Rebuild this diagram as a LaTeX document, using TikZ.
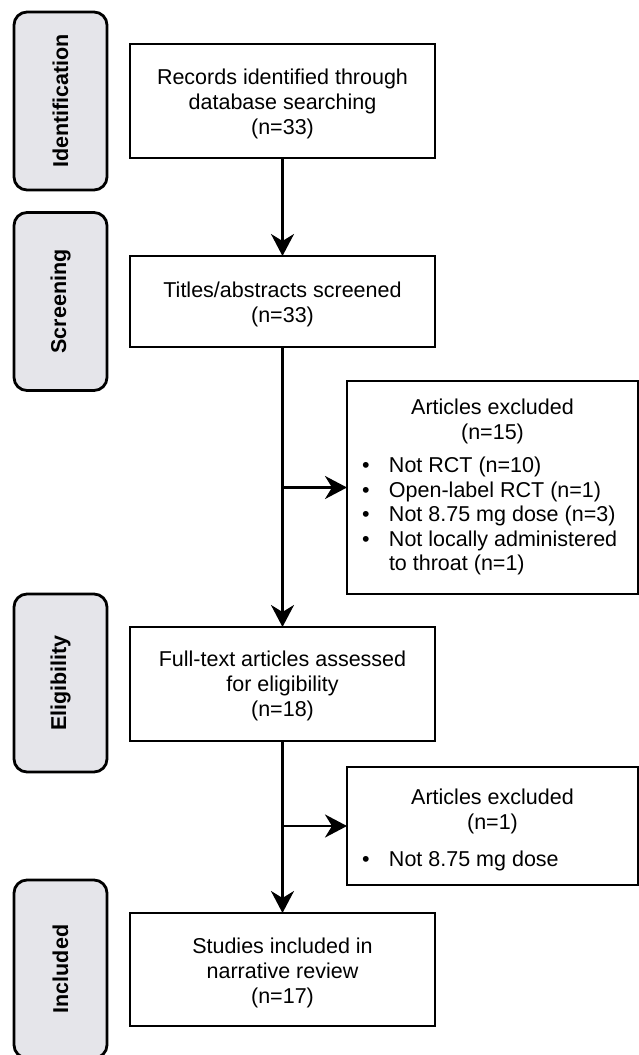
\documentclass[tikz,border=0pt]{standalone}
\usepackage{fontspec}
\setmainfont{Liberation Sans}
\usetikzlibrary{arrows.meta}
\definecolor{tabgray}{RGB}{229,229,234}
\begin{document}
\begin{tikzpicture}[x=1pt,y=-1pt,
  every node/.style={inner sep=0pt, outer sep=0pt},
  txt/.style={font=\fontsize{21.5}{25}\selectfont},
  mainbox/.style={draw=black, line width=2.5pt, fill=white, minimum width=305pt},
  maintext/.style={align=center, txt, yshift=-3pt},
  exbox/.style={draw=black, line width=2.5pt, fill=white, minimum width=291pt},
  tabbox/.style={draw=black, line width=2.8pt, fill=tabgray, rounded corners=13pt, minimum width=93pt, minimum height=178pt},
  tablabel/.style={rotate=90, font=\fontsize{21.5}{25}\selectfont\bfseries},
  arr/.style={line width=2.5pt, -{Stealth[length=22pt,width=23pt,inset=7pt]}},
  bl/.style={txt, anchor=north west}
]
\useasboundingbox (0,0) rectangle (639,1055);
\begin{scope}
\clip (0,0) rectangle (639,1055);
% stage tabs
\node[tabbox] (t1) at (60.5,101) {};
\node[tablabel] (t1l) at (t1.center) {Identification};
\node[tabbox] (t2) at (60.5,301.5) {};
\node[tablabel] (t2l) at (t2.center) {Screening};
\node[tabbox] (t3) at (60.5,683) {};
\node[tablabel] (t3l) at (t3.center) {Eligibility};
\node[tabbox] (t4) at (60.5,969) {};
\node[tablabel] (t4l) at (t4.center) {Included};

% main boxes
\node[mainbox, minimum height=114pt] (b1) at (282.5,101) {};
\node[maintext] (b1t) at (b1.center) {Records identified through\\database searching\\(n=33)};
\node[mainbox, minimum height=91pt] (b2) at (282.5,301.5) {};
\node[maintext] (b2t) at (b2.center) {Titles/abstracts screened\\(n=33)};
\node[mainbox, minimum height=114pt] (b3) at (282.5,684) {};
\node[maintext, yshift=1pt] (b3t) at (b3.center) {Full-text articles assessed\\for eligibility\\(n=18)};
\node[mainbox, minimum height=113pt] (b4) at (282.5,969.5) {};
\node[maintext] (b4t) at (b4.center) {Studies included in\\narrative review\\(n=17)};

% exclusion boxes
\node[exbox, minimum height=213pt] (e1) at (492.5,487.5) {};
\node[txt, align=center, anchor=north] (e1t) at (492.5,399) {Articles excluded\\(n=15)};
\node[bl] (e1l) at (359,455) {%
  \begin{tabular}{@{}p{30pt}@{}l@{}}
  \hspace{3pt}\textbullet & Not RCT (n=10)\\[-0.5pt]
  \hspace{3pt}\textbullet & Open-label RCT (n=1)\\[-0.5pt]
  \hspace{3pt}\textbullet & Not 8.75 mg dose (n=3)\\[-0.5pt]
  \hspace{3pt}\textbullet & Not locally administered\\[-0.5pt]
   & to throat (n=1)
  \end{tabular}};

\node[exbox, minimum height=118pt] (e2) at (492.5,826) {};
\node[txt, align=center, anchor=north] (e2t) at (492.5,789) {Articles excluded\\(n=1)};
\node[bl] (e2l) at (359,849) {%
  \begin{tabular}{@{}p{30pt}@{}l@{}}
  \hspace{3pt}\textbullet & Not 8.75 mg dose
  \end{tabular}};

% connectors
\draw[arr] (b1) -- (b2);
\draw[arr] (b2) -- (b3);
\draw[arr] (b2.south |- e1.west) -- (e1.west);
\draw[arr] (b3) -- (b4);
\draw[arr] (b3.south |- e2.west) -- (e2.west);
\end{scope}
\end{tikzpicture}
\end{document}
